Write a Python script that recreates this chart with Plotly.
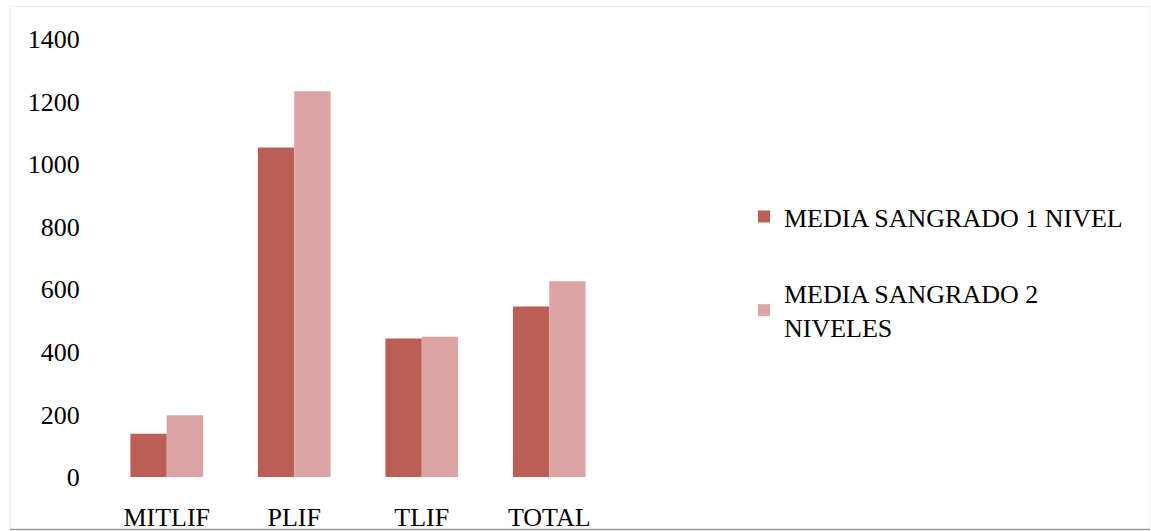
import plotly.graph_objects as go

categories = ["MITLIF", "PLIF", "TLIF", "TOTAL"]
media_1_nivel = [138, 1053, 443, 545]
media_2_niveles = [197, 1233, 448, 626]
series_names = ["MEDIA SANGRADO 1 NIVEL", "MEDIA SANGRADO 2<br>NIVELES"]
y_ticks = [0, 200, 400, 600, 800, 1000, 1200, 1400]

W, H = 1151, 531
L, R, T, B = 103, 613, 38.6, 477.5
pw, ph = R - L, B - T

fig = go.Figure()
fig.add_trace(go.Bar(x=categories, y=media_1_nivel, name=series_names[0],
                     marker=dict(color="#BA5E56", line=dict(width=0)), legendgroup="a"))
fig.add_trace(go.Bar(x=categories, y=media_2_niveles, name=series_names[1],
                     marker=dict(color="#DCA4A3", line=dict(width=0)), legendgroup="b"))

font = dict(family="Liberation Serif, Times New Roman, serif", size=26, color="#000000")

def px(x):
    return (x - L) / pw

def py(y):
    return (B - y) / ph

fig.update_layout(
    width=W, height=H,
    margin=dict(l=L, r=W - R, t=T, b=H - B, pad=0, autoexpand=False),
    paper_bgcolor="white", plot_bgcolor="white",
    barmode="group", bargap=0.43, bargroupgap=0,
    font=font,
    showlegend=True,
    legend=dict(x=px(744), y=py(193), xanchor="left", yanchor="top",
                font=dict(family=font["family"], size=26, color="#000"),
                tracegroupgap=40, itemsizing="constant", bgcolor="rgba(0,0,0,0)"),
    xaxis=dict(showgrid=False, showline=False, zeroline=False, automargin=False,
               ticks="outside", ticklen=17, tickcolor="rgba(0,0,0,0)",
               tickfont=font),
    yaxis=dict(range=[0, 1400], tickvals=y_ticks, showgrid=False, showline=False,
               zeroline=False, automargin=False, ticks="outside", ticklen=17,
               tickcolor="rgba(0,0,0,0)", tickfont=font),
    shapes=[
        dict(type="rect", xref="paper", yref="paper", x0=px(10), x1=px(1150),
             y0=py(530), y1=py(6), line=dict(color="#EEEEEE", width=1), layer="below"),
        dict(type="line", xref="paper", yref="paper", x0=px(10), x1=px(1150),
             y0=py(530), y1=py(530), line=dict(color="#9A9A9A", width=1.5)),
    ],
)

fig.write_html("out.html")
